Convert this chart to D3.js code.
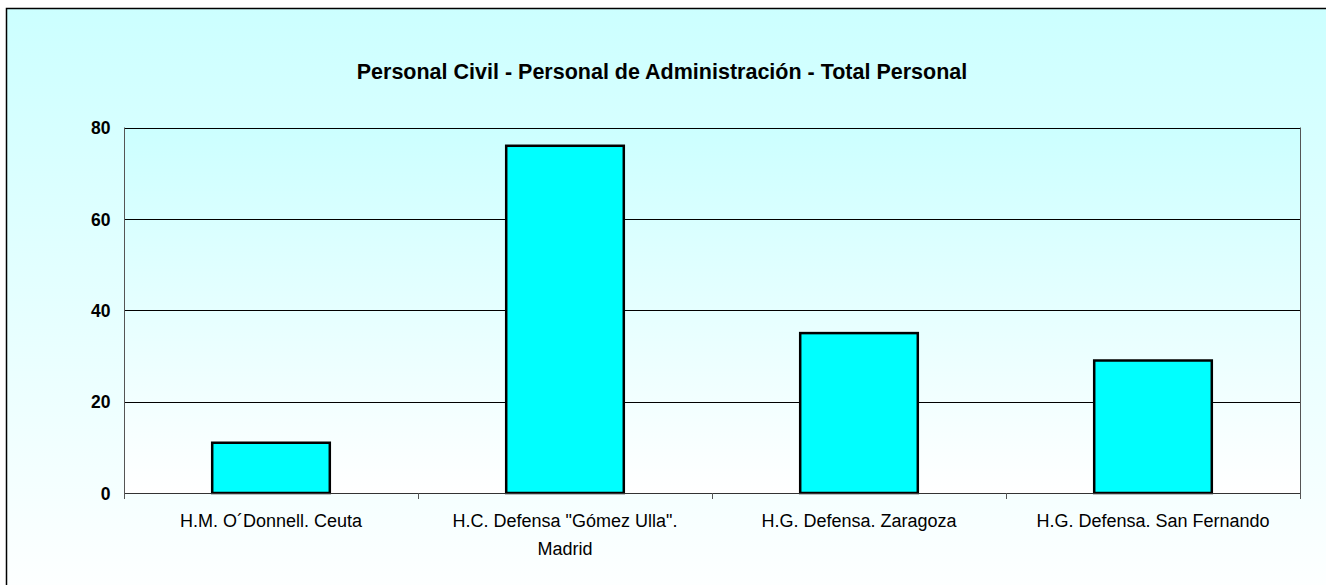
<!DOCTYPE html>
<html><head><meta charset="utf-8">
<script src="https://cdn.jsdelivr.net/npm/d3@7"></script>
<style>html,body{margin:0;padding:0;background:#fff;overflow:hidden;}svg{display:block;font-family:"Liberation Sans",Arial,sans-serif;}</style>
</head><body>
<svg id="c" width="1326" height="585"></svg>
<script>
const categories = [["H.M. O´Donnell. Ceuta"], ["H.C. Defensa \"Gómez Ulla\".", "Madrid"], ["H.G. Defensa. Zaragoza"], ["H.G. Defensa. San Fernando"]];
const values = [11, 76, 35, 29];
const yTicks = [0, 20, 40, 60, 80];
const title = "Personal Civil - Personal de Administración - Total Personal";

const svg = d3.select("#c");
const defs = svg.append("defs");
const g1 = defs.append("linearGradient").attr("id","bg").attr("x1",0).attr("y1",0).attr("x2",0).attr("y2",1);
g1.append("stop").attr("offset","0%").attr("stop-color","#CCFFFF");
g1.append("stop").attr("offset","100%").attr("stop-color","#FFFFFF");
const g2 = defs.append("linearGradient").attr("id","pbg").attr("x1",0).attr("y1",0).attr("x2",0).attr("y2",1);
g2.append("stop").attr("offset","0%").attr("stop-color","#CCFFFF");
g2.append("stop").attr("offset","100%").attr("stop-color","#FFFFFF");

// outer chart area
svg.append("rect").attr("x",6.5).attr("y",8.5).attr("width",1340).attr("height",600)
  .attr("fill","url(#bg)").attr("stroke","#000").attr("stroke-width",1.5);

const L=124, R=1300, T=127.5, B=493;
const x = d3.scaleBand().domain(d3.range(categories.length)).range([L,R]).padding(0);
const y = d3.scaleLinear().domain([0,80]).range([B,T]);

svg.append("rect").attr("x",L).attr("y",T).attr("width",R-L).attr("height",B-T).attr("fill","url(#pbg)");

// gridlines
svg.append("g").selectAll("line").data(yTicks.filter(d=>d>0)).join("line")
  .attr("x1",L).attr("x2",R).attr("y1",d=>Math.round(y(d))+0.5).attr("y2",d=>Math.round(y(d))+0.5)
  .attr("stroke","#000").attr("stroke-width",1);

// right border of plot
svg.append("line").attr("x1",R+0.5).attr("x2",R+0.5).attr("y1",T).attr("y2",B+6).attr("stroke","#555");

// bars
const bw = x.bandwidth()*0.4;
svg.append("g").selectAll("rect").data(values).join("rect")
  .attr("x",(d,i)=>x(i)+x.bandwidth()/2-bw/2)
  .attr("y",d=>y(d))
  .attr("width",bw)
  .attr("height",d=>B-y(d))
  .attr("fill","#00FFFF").attr("stroke","#000").attr("stroke-width",2.5);

// y axis
const ya = svg.append("g").attr("transform",`translate(${L+0.5},0)`)
  .call(d3.axisLeft(y).tickValues(yTicks).tickSize(0).tickPadding(14));
ya.select(".domain").remove();
ya.append("line").attr("x1",0).attr("x2",0).attr("y1",T).attr("y2",B+6).attr("stroke","#555");
ya.selectAll("text").attr("font-size","17.5px").attr("font-weight","bold").attr("fill","#000")
  .attr("font-family","'Liberation Sans',Arial,sans-serif").attr("dy","0.36em");

// x axis
const xa = svg.append("g");
xa.append("line").attr("x1",L).attr("x2",R).attr("y1",B+0.5).attr("y2",B+0.5).attr("stroke","#333");
xa.selectAll("line.tk").data(d3.range(categories.length+1)).join("line").attr("class","tk")
  .attr("x1",i=>Math.round(L+i*x.bandwidth())+0.5).attr("x2",i=>Math.round(L+i*x.bandwidth())+0.5)
  .attr("y1",B).attr("y2",B+6).attr("stroke","#555");
xa.selectAll("text").data(categories).join("text")
  .attr("x",(d,i)=>x(i)+x.bandwidth()/2)
  .attr("y",527)
  .attr("text-anchor","middle").attr("font-size","18px").attr("fill","#000")
  .each(function(d){
    const t=d3.select(this);
    d.forEach((s,k)=>t.append("tspan").attr("x",t.attr("x")).attr("dy",k?28:0).text(s));
  });

svg.append("text").attr("x",662).attr("y",79).attr("text-anchor","middle")
  .attr("font-size","21.5px").attr("font-weight","bold").text(title);
</script>
</body></html>
